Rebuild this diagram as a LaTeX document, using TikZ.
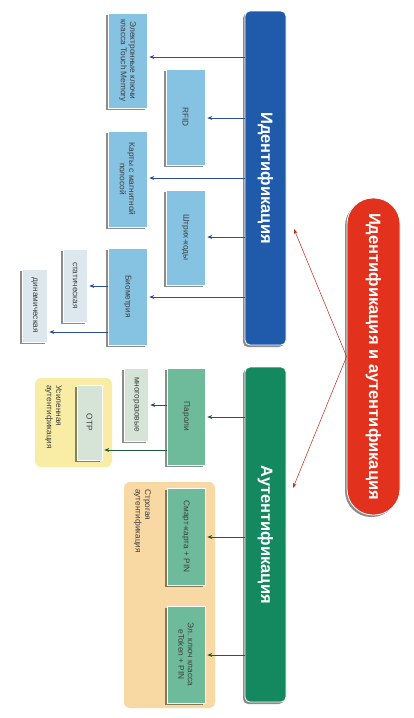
\documentclass[tikz,border=0pt]{standalone}
\usepackage{fontspec}
\setmainfont{Liberation Sans}
\usetikzlibrary{arrows.meta,shadows}
\definecolor{barblue}{HTML}{1F5BAA}
\definecolor{boxblue}{HTML}{86C2E2}
\definecolor{paleblue}{HTML}{DCE8EE}
\definecolor{lineblue}{HTML}{2A4D9A}
\definecolor{bargreen}{HTML}{14885E}
\definecolor{boxgreen}{HTML}{6DBB9B}
\definecolor{palegreen}{HTML}{D5E4D6}
\definecolor{linegreen}{HTML}{1E5C3A}
\definecolor{zoneyellow}{HTML}{F9EDA5}
\definecolor{zoneorange}{HTML}{F8D8A3}
\definecolor{pillred}{HTML}{E2321E}
\begin{document}
\begin{tikzpicture}[x=1pt,y=-1pt,
  shad/.style={drop shadow={shadow xshift=-2pt,shadow yshift=-2pt,opacity=0.45,fill=black}},
  box/.style={rotate=-90,draw=white,line width=0.6pt,inner sep=1pt,align=center,
    font=\fontsize{8.3}{9.3}\selectfont,text=black!75,shad},
  bluebox/.style={box,fill=boxblue},
  palebox/.style={box,fill=paleblue},
  greenbox/.style={box,fill=boxgreen},
  pgbox/.style={box,fill=palegreen},
  bar/.style={rotate=-90,draw=white,line width=0.8pt,rounded corners=5pt,text=white,
    font=\fontsize{16.5}{18}\bfseries\selectfont,shad},
  zone/.style={rounded corners=6pt},
  zonelabel/.style={rotate=-90,anchor=north west,align=left,inner sep=0pt,
    font=\fontsize{8.3}{9.3}\selectfont,text=black!75},
  barrow/.style={draw=lineblue,line width=0.7pt,-{Stealth[length=5pt,width=4pt]},shorten >=2pt},
  garrow/.style={draw=linegreen,line width=0.7pt,-{Stealth[length=5pt,width=4pt]},shorten >=2pt},
  rarrow/.style={draw=pillred!85!black,line width=0.5pt,-{Stealth[length=5pt,width=3.5pt]}}
]
\useasboundingbox (0,0) rectangle (414,718);
\fill[white] (0,0) rectangle (414,718);

% zones
\fill[zoneyellow,zone] (35,378) rectangle (112,467);
\fill[zoneorange,zone] (124,482) rectangle (215,708);
\node[zonelabel] (lblus) at (62,385) {Усиленная\\аутентификация};
\node[zonelabel] (lblstr) at (151,489) {Строгая\\аутентификация};

% bars
\node[bar,fill=barblue,minimum width=334pt,minimum height=41pt] (ident) at (265.5,178) {Идентификация};
\node[bar,fill=bargreen,minimum width=335pt,minimum height=41pt] (auth) at (265.5,534.5) {Аутентификация};
\node[bar,fill=pillred,rounded corners=26pt,minimum width=317pt,minimum height=53pt] (both) at (373.5,356.5) {Идентификация и аутентификация};

% identification boxes
\node[bluebox,minimum width=95pt,minimum height=39pt] (keys) at (127.5,60.5) {Электронные ключи\\класса Touch Memory};
\node[bluebox,minimum width=96pt,minimum height=39pt] (rfid) at (185.5,117) {RFID};
\node[bluebox,minimum width=96pt,minimum height=39pt] (cards) at (127.5,179) {Карты с магнитной\\полосой};
\node[bluebox,minimum width=95pt,minimum height=39pt] (bar) at (185.5,237.5) {Штрих-коды};
\node[bluebox,minimum width=97pt,minimum height=39pt] (bio) at (127.5,296.5) {Биометрия};
\node[palebox,minimum width=73pt,minimum height=24pt] (stat) at (75,285.5) {статическая};
\node[palebox,minimum width=73pt,minimum height=25pt] (dyn) at (34.5,305.5) {динамическая};

% authentication boxes
\node[greenbox,minimum width=97pt,minimum height=38pt] (pwd) at (186,416.5) {Пароли};
\node[pgbox,minimum width=73pt,minimum height=24pt] (multi) at (136,404.5) {многоразовые};
\node[pgbox,minimum width=75pt,minimum height=25pt] (otp) at (89.5,422.5) {OTP};
\node[greenbox,minimum width=97pt,minimum height=38pt] (smart) at (186,536.5) {Смарт-карта + PIN};
\node[greenbox,minimum width=97pt,minimum height=38pt] (etok) at (186,654.5) {Эл. ключ класса\\eToken + PIN};

% blue connectors
\draw[barrow] (ident.south |- 0,57) -- (keys.north |- 0,57);
\draw[barrow] (ident.south |- 0,118) -- (rfid.north |- 0,118);
\draw[barrow] (ident.south |- 0,178) -- (cards.north |- 0,178);
\draw[barrow] (ident.south |- 0,237) -- (bar.north |- 0,237);
\draw[barrow] (ident.south |- 0,297) -- (bio.north |- 0,297);
\draw[barrow] (bio.south |- 0,286) -- (stat.north |- 0,286);
\draw[barrow] (bio.south |- 0,332) -- (dyn.north |- 0,332);

% green connectors
\draw[garrow] (auth.south |- 0,417) -- (pwd.north |- 0,417);
\draw[garrow] (auth.south |- 0,537) -- (smart.north |- 0,537);
\draw[garrow] (auth.south |- 0,655) -- (etok.north |- 0,655);
\draw[garrow] (pwd.south |- 0,405) -- (multi.north |- 0,405);
\draw[garrow] (pwd.south |- 0,450) -- (otp.north |- 0,450);

% red connectors
\coordinate (tipident) at (294,229);
\coordinate (tipauth) at (293,488);
\draw[rarrow] (both.south) -- (tipident);
\draw[rarrow] (both.south) -- (tipauth);
\end{tikzpicture}
\end{document}
